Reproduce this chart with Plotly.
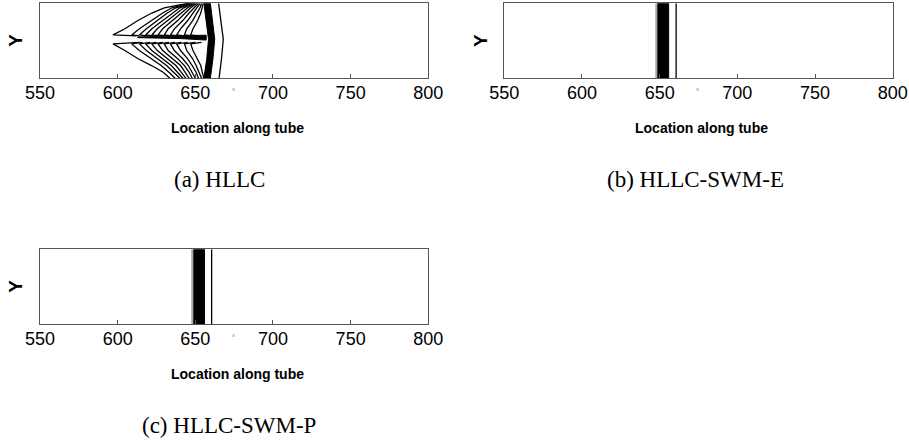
import plotly.graph_objects as go

W, H = 909, 442

# ---------------- data ----------------
x_ticks = [550, 600, 650, 700, 750, 800]
x_range = [550, 800]
y_range = [0, 1]
captions = ["(a) HLLC", "(b) HLLC-SWM-E", "(c) HLLC-SWM-P"]
x_title = "Location along tube"
y_title = "Y"
x_small = "x"

# Panel (a) HLLC: contour lines (x = location along tube, y = across tube 0..1)
hllc_upper_y = [0.578, 0.66, 0.77, 0.87, 0.94, 1.0]
hllc_upper_x = [
    [597, 604.7, 613.0, 622.0, 630.0, 645.0],
    [609, 614.0, 621.8, 629.0, 635.0, 646.0],
    [614, 618.5, 625.8, 632.0, 637.5, 647.0],
    [618, 622.0, 629.0, 635.0, 640.0, 648.0],
    [622, 625.5, 632.3, 638.0, 642.5, 649.0],
    [626, 629.0, 635.5, 641.0, 645.0, 650.0],
    [630, 632.5, 638.7, 643.5, 647.0, 651.0],
    [634, 636.5, 641.9, 646.0, 649.0, 652.0],
    [638, 640.5, 645.1, 648.5, 651.0, 653.0],
    [643, 644.5, 648.3, 651.0, 653.0, 654.0],
    [647, 648.5, 651.5, 653.5, 654.5, 655.0],
]
hllc_upper_join_x = [612, 614, 619, 623, 627, 631, 635, 639, 643, 648, 652]
hllc_upper_join_y = 0.565

hllc_lower_y = [0.459, 0.37, 0.26, 0.17, 0.08, 0.0]
hllc_lower_x = [
    [597, 604.6, 613.2, 621.8, 629.3, 633.6],
    [609, 614.0, 621.8, 628.0, 633.0, 637.0],
    [614, 618.5, 625.8, 631.5, 636.0, 640.0],
    [618, 622.0, 629.0, 634.5, 638.5, 642.0],
    [622, 625.5, 632.3, 637.5, 641.0, 644.0],
    [626, 629.0, 635.5, 640.5, 643.5, 646.0],
    [630, 632.5, 638.7, 643.0, 646.0, 648.0],
    [634, 636.5, 641.9, 645.5, 648.0, 650.0],
    [638, 640.5, 645.1, 648.0, 650.5, 652.0],
    [643, 644.5, 648.3, 650.5, 652.5, 654.0],
    [647, 648.5, 651.5, 653.5, 654.5, 655.5],
]
hllc_lower_join_x = [614, 616, 621, 625, 629, 633, 637, 641, 645, 650, 654]
hllc_lower_join_y = 0.48

# dense contour band along the tube axis
hllc_band_x = [613, 640, 657, 657, 640, 613]
hllc_band_y = [0.552, 0.568, 0.575, 0.51, 0.53, 0.542]

# shock front (dense contours) and outer contour
shock_y = [1.0, 0.75, 0.52, 0.25, 0.0]
shock_left_x = [655.5, 657.3, 658.5, 657.3, 655.5]
shock_right_x = [659.7, 661.3, 662.5, 661.3, 659.7]
shock_outer_x = [665.0, 666.8, 668.0, 666.8, 665.3]

# Panel (b) HLLC-SWM-E and (c) HLLC-SWM-P: planar front
swm_e_thin = 647.7
swm_e_band = [648.8, 655.8]
swm_e_line = 660.6
swm_p_thin = 647.9
swm_p_band = [649.0, 655.9]
swm_p_line = 660.5

# ---------------- figure ----------------
fig = go.Figure()
BLACK = "black"

def line(x, y, xa, ya, color=BLACK, width=1.0):
    fig.add_trace(go.Scatter(x=x, y=y, mode="lines", xaxis=xa, yaxis=ya,
                             line=dict(color=color, width=width),
                             hoverinfo="skip", showlegend=False))

def fillpoly(x, y, xa, ya):
    fig.add_trace(go.Scatter(x=list(x) + [x[0]], y=list(y) + [y[0]], mode="lines",
                             fill="toself", fillcolor=BLACK, xaxis=xa, yaxis=ya,
                             line=dict(color=BLACK, width=1),
                             hoverinfo="skip", showlegend=False))

# panel (a)
for xs, jx in zip(hllc_upper_x, hllc_upper_join_x):
    line([jx] + xs, [hllc_upper_join_y] + hllc_upper_y, "x", "y", width=1.3)
for xs, jx in zip(hllc_lower_x, hllc_lower_join_x):
    line([jx] + xs, [hllc_lower_join_y] + hllc_lower_y, "x", "y", width=1.3)
fillpoly(hllc_band_x, hllc_band_y, "x", "y")
fillpoly(shock_left_x + shock_right_x[::-1], shock_y + shock_y[::-1], "x", "y")
line(shock_outer_x, shock_y, "x", "y", width=1.3)

# panel (b)
line([swm_e_thin, swm_e_thin], y_range, "x2", "y2", color="#666", width=1)
fillpoly([swm_e_band[0], swm_e_band[1], swm_e_band[1], swm_e_band[0]],
         [y_range[0], y_range[0], y_range[1], y_range[1]], "x2", "y2")
line([swm_e_line, swm_e_line], y_range, "x2", "y2", width=1.3)

# panel (c)
line([swm_p_thin, swm_p_thin], y_range, "x3", "y3", color="#666", width=1)
fillpoly([swm_p_band[0], swm_p_band[1], swm_p_band[1], swm_p_band[0]],
         [y_range[0], y_range[0], y_range[1], y_range[1]], "x3", "y3")
line([swm_p_line, swm_p_line], y_range, "x3", "y3", width=1.3)

# panel boxes in screen pixels: left, right, top, bottom
boxes = [(40, 428.3, 3.3, 78.3), (504.3, 892.7, 3.3, 78.3), (40, 428.3, 249.3, 324.3)]

def px(v):
    return v / W

def py(v):
    return (H - v) / H

layout = dict(width=W, height=H, margin=dict(l=0, r=0, t=0, b=0, pad=0),
              paper_bgcolor="white", plot_bgcolor="white", showlegend=False)
annotations = []
for i, (l, r, t, b) in enumerate(boxes):
    sfx = "" if i == 0 else str(i + 1)
    layout["xaxis" + sfx] = dict(
        domain=[px(l), px(r)], anchor="y" + sfx, range=x_range, tickvals=x_ticks,
        ticktext=[str(v) for v in x_ticks], ticks="inside", ticklen=4,
        tickcolor="#555", showline=True, linecolor="#555", linewidth=1, mirror=True,
        showgrid=False, zeroline=False, automargin=False, ticklabelstandoff=-2,
        tickfont=dict(family="Liberation Sans", size=18, color="black"))
    layout["yaxis" + sfx] = dict(
        domain=[py(b), py(t)], anchor="x" + sfx, range=y_range, showticklabels=False,
        ticks="", showline=True, linecolor="#555", linewidth=1, mirror=True,
        showgrid=False, zeroline=False, automargin=False)
    cx = (l + r) / 2
    annotations.append(dict(text="<b>" + y_title + "</b>", x=px(l - 24),
                            y=py((t + b) / 2), xref="paper", yref="paper",
                            showarrow=False, textangle=-90,
                            xanchor="center", yanchor="middle",
                            font=dict(family="Liberation Sans", size=19, color="black")))
    annotations.append(dict(text="<b>" + x_title + "</b>", x=px(cx + 3), y=py(b + 50),
                            xref="paper", yref="paper", showarrow=False,
                            xanchor="center", yanchor="middle",
                            font=dict(family="Liberation Sans", size=14, color="black")))
    annotations.append(dict(text=x_small, x=px(cx - 1), y=py(b + 11), xref="paper",
                            yref="paper", showarrow=False, xanchor="center",
                            yanchor="middle",
                            font=dict(family="Liberation Sans", size=6, color="#888")))

cap_pos = [(219, 179), (695, 179), (229, 425)]
for cap, (cxp, cyp) in zip(captions, cap_pos):
    annotations.append(dict(text=cap, x=px(cxp), y=py(cyp), xref="paper", yref="paper",
                            showarrow=False, xanchor="center", yanchor="middle",
                            font=dict(family="Liberation Serif", size=23, color="black")))

layout["annotations"] = annotations
fig.update_layout(**layout)
fig.write_html("out.html", config={"displayModeBar": False},
               post_script="document.body.style.margin='0px';"
                           "document.body.style.overflow='hidden';")
